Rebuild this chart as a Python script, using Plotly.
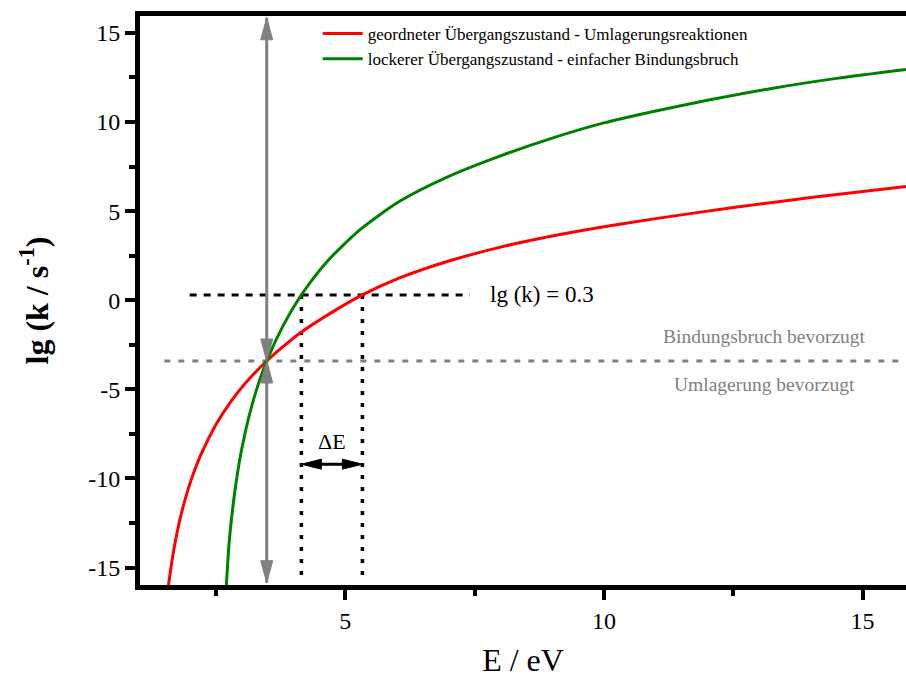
import plotly.graph_objects as go

# ---- data ----
E_red = [1.58, 1.65, 1.75, 1.85, 2.00, 2.20, 2.50, 2.80, 3.10, 3.48, 3.80, 4.12, 4.70, 5.33, 6.05,
         7.00, 8.00, 9.00, 10.00, 11.00, 12.50, 14.00, 15.84]
lgk_red = [-16.0, -14.59, -12.99, -11.74, -10.25, -8.72, -6.98, -5.64, -4.55, -3.41, -2.59, -1.85, -0.75, 0.30, 1.25,
           2.20, 2.98, 3.60, 4.12, 4.58, 5.20, 5.76, 6.38]

E_green = [2.70, 2.75, 2.82, 2.90, 3.00, 3.15, 3.30, 3.48, 3.80, 4.15, 4.64, 5.28, 6.05,
           7.00, 8.00, 9.00, 10.00, 11.00, 12.00, 13.27, 14.50, 15.84]
lgk_green = [-16.0, -13.73, -11.73, -9.99, -8.31, -6.37, -4.86, -3.41, -1.41, 0.30, 2.15, 3.95, 5.55,
             6.95, 8.10, 9.10, 9.95, 10.62, 11.22, 11.90, 12.45, 12.95]

names = ["geordneter Übergangszustand - Umlagerungsreaktionen",
         "lockerer Übergangszustand - einfacher Bindungsbruch"]

lgk_threshold = 0.3
E_thr_green = 4.15
E_thr_red = 5.33
E_cross = 3.48
lgk_cross = -3.41
deltaE_level = -9.2

x_range = [1.03, 15.84]
y_range = [-15.98, 15.95]
y_tickvals = [-15, -10, -5, 0, 5, 10, 15]
y_ticktext = ["-15", "-10", "-5", "0", "5", "10", "15"]
x_tickvals = [5, 10, 15]
x_ticktext = ["5", "10", "15"]

FONT = "Liberation Serif"
GRAY = "#808080"

fig = go.Figure()

# threshold dotted lines (black)
fig.add_trace(go.Scatter(x=[1.99, 7.41], y=[lgk_threshold, lgk_threshold], mode="lines",
                         line=dict(color="black", width=3, dash="7px,7px"),
                         showlegend=False, hoverinfo="skip"))
for e in (E_thr_green, E_thr_red):
    fig.add_trace(go.Scatter(x=[e, e], y=[lgk_threshold, -15.6], mode="lines",
                             line=dict(color="black", width=3.5, dash="4px,8px"),
                             showlegend=False, hoverinfo="skip"))

# gray dashed separator
fig.add_trace(go.Scatter(x=[1.50, x_range[1]], y=[lgk_cross, lgk_cross], mode="lines",
                         line=dict(color=GRAY, width=3, dash="6px,8px"),
                         showlegend=False, hoverinfo="skip"))

# gray vertical arrow line
fig.add_trace(go.Scatter(x=[E_cross, E_cross], y=[-15.85, 15.85], mode="lines",
                         line=dict(color=GRAY, width=3),
                         showlegend=False, hoverinfo="skip"))

# delta E arrow line
fig.add_trace(go.Scatter(x=[E_thr_green + 0.1, E_thr_red - 0.1], y=[deltaE_level, deltaE_level], mode="lines",
                         line=dict(color="black", width=3),
                         showlegend=False, hoverinfo="skip"))

# curves
fig.add_trace(go.Scatter(x=E_red, y=lgk_red, mode="lines", name=names[0],
                         line=dict(color="#ff0000", width=3, shape="spline", smoothing=0.7)))
fig.add_trace(go.Scatter(x=E_green, y=lgk_green, mode="lines", name=names[1],
                         line=dict(color="#008000", width=3, shape="spline", smoothing=0.7)))


def head(xa, ya, direction, color, L=22, W=6):
    # arrowhead with tip at (xa, ya), size in pixels
    if direction == "up":
        path = f"M0,0 L{-W},{-L} L{W},{-L} Z"
    elif direction == "down":
        path = f"M0,0 L{-W},{L} L{W},{L} Z"
    elif direction == "left":
        path = f"M0,0 L{L},{W} L{L},{-W} Z"
    else:
        path = f"M0,0 L{-L},{W} L{-L},{-W} Z"
    return dict(type="path", xref="x", yref="y", xsizemode="pixel", ysizemode="pixel",
                xanchor=xa, yanchor=ya, path=path, fillcolor=color,
                line=dict(color=color, width=1), layer="above")


shapes = [
    head(E_cross, 15.85, "up", GRAY),
    head(E_cross, -15.85, "down", GRAY),
    head(E_cross, lgk_cross, "down", GRAY),
    head(E_cross, lgk_cross, "up", GRAY),
    head(E_thr_green, deltaE_level, "left", "black", L=20, W=5),
    head(E_thr_red, deltaE_level, "right", "black", L=20, W=5),
]

annotations = [
    dict(x=7.75, y=lgk_threshold, xref="x", yref="y", text="lg (k) = 0.3", showarrow=False,
         xanchor="left", yanchor="middle", font=dict(family=FONT, size=23, color="black")),
    dict(x=(E_thr_green + E_thr_red) / 2, y=-7.95, xref="x", yref="y", text="ΔE", showarrow=False,
         xanchor="center", yanchor="middle", font=dict(family=FONT, size=22, color="black")),
    dict(x=13.11, y=-2.05, xref="x", yref="y", text="Bindungsbruch bevorzugt", showarrow=False,
         xanchor="center", yanchor="middle", font=dict(family=FONT, size=19.5, color=GRAY)),
    dict(x=13.11, y=-4.72, xref="x", yref="y", text="Umlagerung bevorzugt", showarrow=False,
         xanchor="center", yanchor="middle", font=dict(family=FONT, size=19.5, color=GRAY)),
]

fig.update_layout(
    width=906, height=678,
    margin=dict(l=140, r=0, t=16, b=93, autoexpand=False),
    paper_bgcolor="white", plot_bgcolor="white",
    font=dict(family=FONT, color="black"),
    shapes=shapes, annotations=annotations,
    legend=dict(x=0.232, y=1.0, xanchor="left", yanchor="top", bgcolor="rgba(0,0,0,0)",
                itemwidth=40,
                font=dict(family=FONT, size=17, color="black"), tracegroupgap=0),
    xaxis=dict(range=x_range, showline=True, linewidth=5, linecolor="black", mirror=True,
               automargin=False,
               ticks="outside", ticklen=10, tickwidth=4, tickcolor="black",
               tickvals=x_tickvals, ticktext=x_ticktext,
               minor=dict(ticks="outside", ticklen=6, tickwidth=4, tickcolor="black",
                          tickvals=[2.5, 7.5, 12.5]),
               showgrid=False, zeroline=False,
               tickfont=dict(family=FONT, size=24, color="black"),
               title=dict(text="E / eV", font=dict(family=FONT, size=32, color="black"), standoff=18)),
    yaxis=dict(range=y_range, showline=True, linewidth=5, linecolor="black", mirror=False,
               automargin=False,
               ticks="outside", ticklen=10, tickwidth=4, tickcolor="black",
               tickvals=y_tickvals, ticktext=y_ticktext,
               minor=dict(ticks="outside", ticklen=6, tickwidth=4, tickcolor="black",
                          tickvals=[-12.5, -7.5, -2.5, 2.5, 7.5, 12.5]),
               showgrid=False, zeroline=False,
               tickfont=dict(family=FONT, size=24, color="black"),
               title=dict(text="<b>lg (k / s<sup>-1</sup>)</b>", font=dict(family=FONT, size=32, color="black"),
                          standoff=32)),
)

# remove the browser's default page margin so the figure fills the 906x678 window exactly
fig.write_html("out.html", config={"displayModeBar": False},
               post_script="document.body.style.margin='0';document.body.style.overflow='hidden';")
